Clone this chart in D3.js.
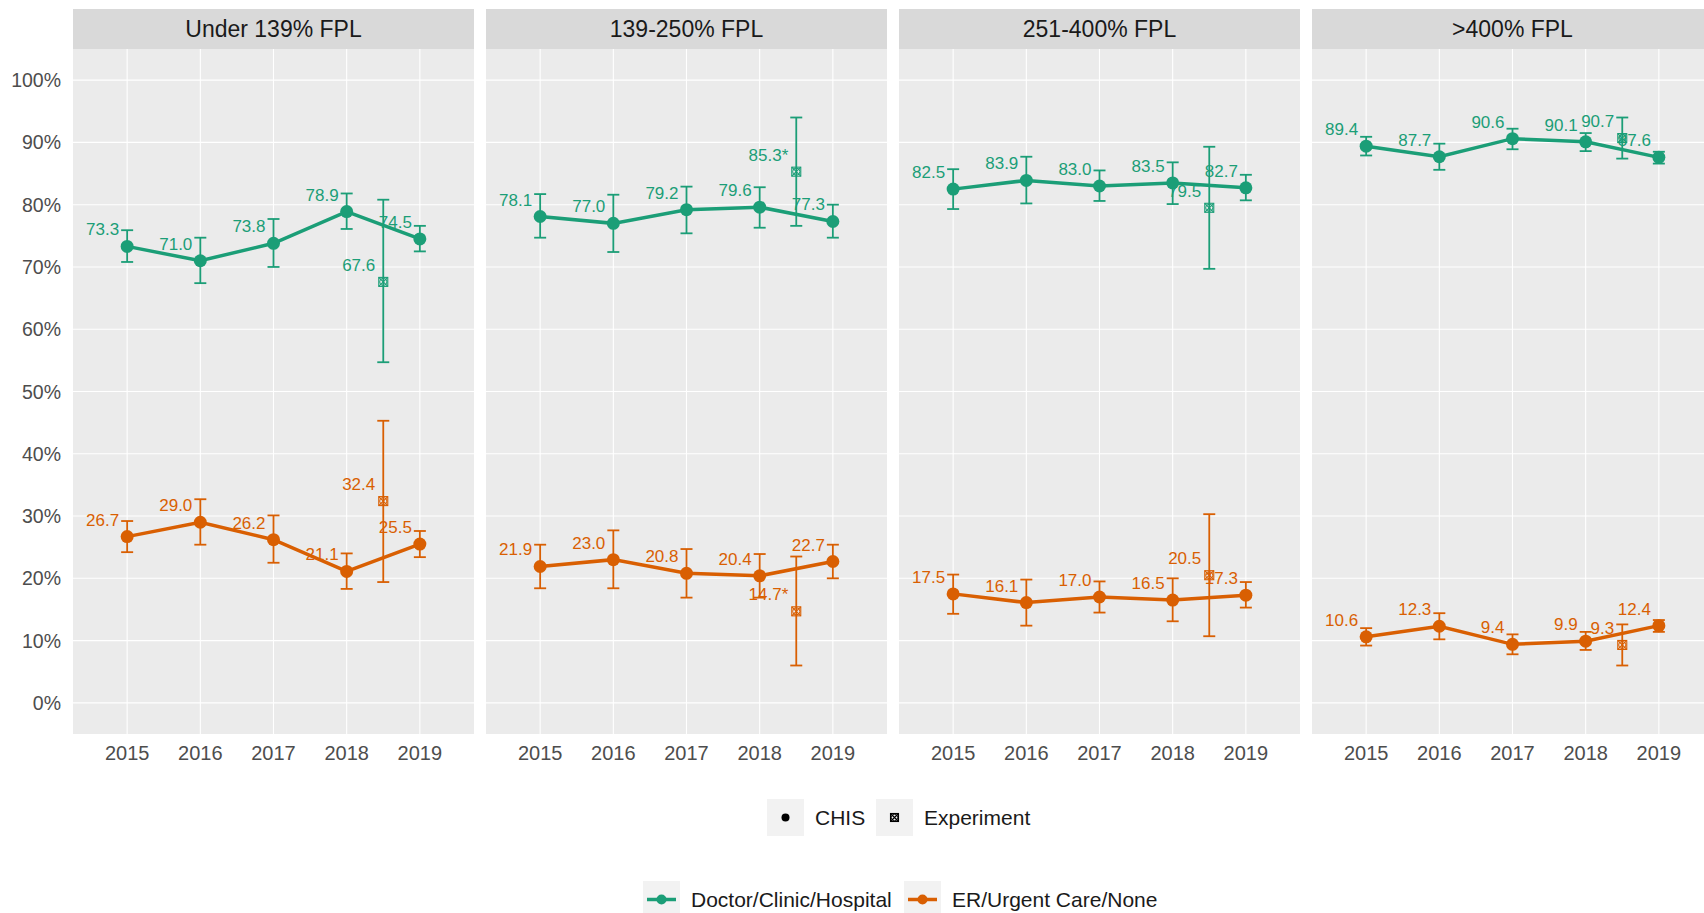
<!DOCTYPE html>
<html>
<head>
<meta charset="utf-8">
<script src="https://cdn.jsdelivr.net/npm/d3@7"></script>
<style>
  body { margin: 0; background: #fff; }
  text { font-family: "Liberation Sans", Arial, sans-serif; }
</style>
</head>
<body>
<div id="viz"></div>
<script>
// facet panels and years
var panels = ["Under 139% FPL", "139-250% FPL", "251-400% FPL", ">400% FPL"];
var years = [2015, 2016, 2017, 2018, 2019];
var yTicks = [0, 10, 20, 30, 40, 50, 60, 70, 80, 90, 100];
var expYear = 2018.5;

// Doctor/Clinic/Hospital (CHIS)
var docValues = [[73.3, 71.0, 73.8, 78.9, 74.5], [78.1, 77.0, 79.2, 79.6, 77.3], [82.5, 83.9, 83.0, 83.5, 82.7], [89.4, 87.7, 90.6, 90.1, 87.6]];
var docLow = [[70.8, 67.4, 70.0, 76.1, 72.5], [74.7, 72.4, 75.4, 76.3, 74.7], [79.3, 80.2, 80.6, 80.1, 80.7], [87.9, 85.6, 88.9, 88.6, 86.6]];
var docHigh = [[75.9, 74.7, 77.7, 81.8, 76.6], [81.7, 81.6, 82.9, 82.8, 80.0], [85.7, 87.7, 85.5, 86.8, 84.8], [90.9, 89.8, 92.2, 91.5, 88.5]];

// ER/Urgent Care/None (CHIS)
var erValues = [[26.7, 29.0, 26.2, 21.1, 25.5], [21.9, 23.0, 20.8, 20.4, 22.7], [17.5, 16.1, 17.0, 16.5, 17.3], [10.6, 12.3, 9.4, 9.9, 12.4]];
var erLow = [[24.2, 25.4, 22.5, 18.3, 23.4], [18.4, 18.4, 16.9, 16.9, 20.0], [14.3, 12.4, 14.5, 13.1, 15.3], [9.2, 10.2, 7.8, 8.5, 11.4]];
var erHigh = [[29.2, 32.7, 30.1, 24.0, 27.6], [25.4, 27.7, 24.7, 23.9, 25.4], [20.6, 19.8, 19.5, 20.0, 19.4], [12.0, 14.4, 11.0, 11.4, 13.3]];

// Experiment estimates
var expDoc = [67.6, 85.3, 79.5, 90.7];
var expDocLow = [54.7, 76.6, 69.7, 87.4];
var expDocHigh = [80.8, 94.0, 89.3, 94.0];
var expDocLabels = ["67.6", "85.3*", "79.5", "90.7"];
var expEr = [32.4, 14.7, 20.5, 9.3];
var expErLow = [19.4, 6.0, 10.7, 6.0];
var expErHigh = [45.3, 23.5, 30.3, 12.6];
var expErLabels = ["32.4", "14.7*", "20.5", "9.3"];

var colDoc = "#1b9e77", colEr = "#d95f02";

var svg = d3.select("#viz").append("svg")
    .attr("width", 1704)
    .attr("height", 913);

var panelW = 401, gap = 12, left0 = 73;
var plotTop = 49, plotBottom = 734, stripTop = 9;

var y = d3.scaleLinear().domain([-5, 105]).range([plotBottom, plotTop]);

// y axis labels (only on first panel)
svg.append("g").selectAll("text")
    .data(yTicks)
    .enter().append("text")
    .attr("x", 61)
    .attr("y", function(d){ return y(d); })
    .attr("text-anchor", "end")
    .attr("dominant-baseline", "central")
    .attr("font-size", 19.5)
    .attr("fill", "#4d4d4d")
    .text(function(d){ return d + "%"; });

function errBar(g, x, lo, hi, col) {
    g.append("line").attr("x1", x).attr("x2", x).attr("y1", y(lo)).attr("y2", y(hi))
        .attr("stroke", col).attr("stroke-width", 1.8);
    [lo, hi].forEach(function(v){
        g.append("line").attr("x1", x - 6).attr("x2", x + 6).attr("y1", y(v)).attr("y2", y(v))
            .attr("stroke", col).attr("stroke-width", 1.8);
    });
}

function expMarker(g, cx, cy, col, s) {
    g.append("rect").attr("x", cx - s).attr("y", cy - s).attr("width", 2 * s).attr("height", 2 * s)
        .attr("fill", "none").attr("stroke", col).attr("stroke-width", 1.1);
    g.append("circle").attr("cx", cx).attr("cy", cy).attr("r", s * 0.8)
        .attr("fill", "none").attr("stroke", col).attr("stroke-width", 1);
    g.append("path").attr("d", "M" + (cx - s) + "," + (cy - s) + "L" + (cx + s) + "," + (cy + s) +
        "M" + (cx + s) + "," + (cy - s) + "L" + (cx - s) + "," + (cy + s))
        .attr("stroke", col).attr("stroke-width", 1.1);
}

panels.forEach(function(name, p) {
    var x0 = left0 + p * (panelW + gap);
    var x = d3.scaleLinear().domain([2014.26, 2019.74]).range([x0, x0 + panelW]);
    var g = svg.append("g");

    // strip
    g.append("rect").attr("x", x0).attr("y", stripTop).attr("width", panelW).attr("height", plotTop - stripTop)
        .attr("fill", "#d9d9d9");
    g.append("text").attr("x", x0 + panelW / 2).attr("y", (stripTop + plotTop) / 2)
        .attr("text-anchor", "middle").attr("dominant-baseline", "central")
        .attr("font-size", 23).attr("fill", "#1a1a1a").text(name);

    // panel
    g.append("rect").attr("x", x0).attr("y", plotTop).attr("width", panelW).attr("height", plotBottom - plotTop)
        .attr("fill", "#ebebeb");
    g.selectAll(".gy").data(yTicks).enter().append("line")
        .attr("x1", x0).attr("x2", x0 + panelW)
        .attr("y1", function(d){ return y(d); }).attr("y2", function(d){ return y(d); })
        .attr("stroke", "#fff").attr("stroke-width", 1.1);
    g.selectAll(".gx").data(years).enter().append("line")
        .attr("x1", function(d){ return x(d); }).attr("x2", function(d){ return x(d); })
        .attr("y1", plotTop).attr("y2", plotBottom)
        .attr("stroke", "#fff").attr("stroke-width", 1.1);

    // x labels
    g.selectAll(".xl").data(years).enter().append("text")
        .attr("x", function(d){ return x(d); }).attr("y", 753)
        .attr("text-anchor", "middle").attr("dominant-baseline", "central")
        .attr("font-size", 20).attr("fill", "#4d4d4d")
        .text(function(d){ return d; });

    var series = [
        {col: colDoc, v: docValues[p], lo: docLow[p], hi: docHigh[p],
         ev: expDoc[p], elo: expDocLow[p], ehi: expDocHigh[p], elab: expDocLabels[p]},
        {col: colEr, v: erValues[p], lo: erLow[p], hi: erHigh[p],
         ev: expEr[p], elo: expErLow[p], ehi: expErHigh[p], elab: expErLabels[p]}
    ];

    series.forEach(function(s) {
        // labels
        years.forEach(function(yr, i) {
            g.append("text").attr("x", x(yr) - 8).attr("y", y(s.v[i]) - 11)
                .attr("text-anchor", "end").attr("font-size", 17).attr("fill", s.col)
                .text(s.v[i].toFixed(1));
        });
        g.append("text").attr("x", x(expYear) - 8).attr("y", y(s.ev) - 11)
            .attr("text-anchor", "end").attr("font-size", 17).attr("fill", s.col)
            .text(s.elab);
    });

    series.forEach(function(s) {
        years.forEach(function(yr, i) { errBar(g, x(yr), s.lo[i], s.hi[i], s.col); });
        errBar(g, x(expYear), s.elo, s.ehi, s.col);
        expMarker(g, x(expYear), y(s.ev), s.col, 4.5);

        var line = d3.line()
            .x(function(d){ return x(d[0]); })
            .y(function(d){ return y(d[1]); });
        g.append("path").datum(years.map(function(yr, i){ return [yr, s.v[i]]; }))
            .attr("d", line).attr("fill", "none").attr("stroke", s.col).attr("stroke-width", 3.5);
        g.selectAll(null).data(years).enter().append("circle")
            .attr("cx", function(d){ return x(d); })
            .attr("cy", function(d, i){ return y(s.v[i]); })
            .attr("r", 6.5).attr("fill", s.col);
    });
});

// legend 1: source
var leg1 = svg.append("g");
leg1.append("rect").attr("x", 767).attr("y", 799).attr("width", 37).attr("height", 37).attr("fill", "#f2f2f2");
leg1.append("circle").attr("cx", 785.5).attr("cy", 817.5).attr("r", 4).attr("fill", "#000");
leg1.append("text").attr("x", 815).attr("y", 817.5).attr("dominant-baseline", "central")
    .attr("font-size", 21).attr("fill", "#1a1a1a").text("CHIS");
leg1.append("rect").attr("x", 876).attr("y", 799).attr("width", 37).attr("height", 37).attr("fill", "#f2f2f2");
expMarker(leg1, 894.5, 817.5, "#000", 4);
leg1.append("text").attr("x", 924).attr("y", 817.5).attr("dominant-baseline", "central")
    .attr("font-size", 21).attr("fill", "#1a1a1a").text("Experiment");

// legend 2: setting
var leg2 = svg.append("g");
[[643, colDoc, "Doctor/Clinic/Hospital"], [904, colEr, "ER/Urgent Care/None"]].forEach(function(k) {
    leg2.append("rect").attr("x", k[0]).attr("y", 881).attr("width", 37).attr("height", 37).attr("fill", "#f2f2f2");
    leg2.append("line").attr("x1", k[0] + 4).attr("x2", k[0] + 33).attr("y1", 899.5).attr("y2", 899.5)
        .attr("stroke", k[1]).attr("stroke-width", 3.5);
    leg2.append("circle").attr("cx", k[0] + 18.5).attr("cy", 899.5).attr("r", 5).attr("fill", k[1]);
    leg2.append("text").attr("x", k[0] + 48).attr("y", 899.5).attr("dominant-baseline", "central")
        .attr("font-size", 21).attr("fill", "#1a1a1a").text(k[2]);
});
</script>
</body>
</html>
